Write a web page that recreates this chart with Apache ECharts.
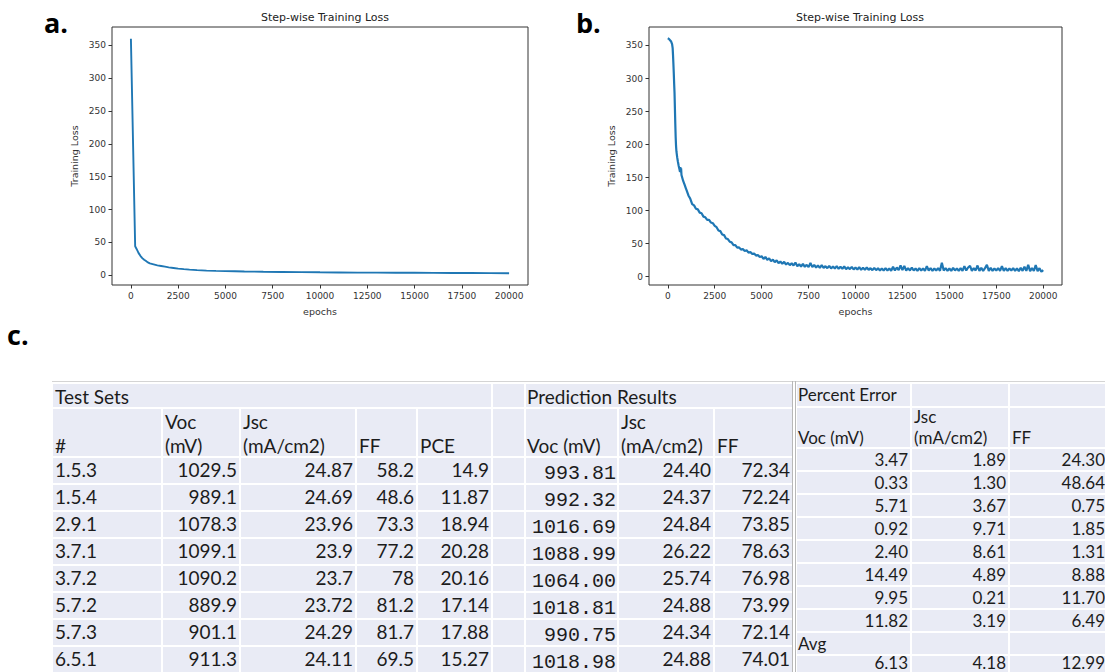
<!DOCTYPE html>
<html>
<head>
<meta charset="utf-8">
<title>Step-wise Training Loss and prediction results</title>
<script src="https://cdn.jsdelivr.net/npm/echarts@6/dist/echarts.min.js"></script>
<style>
  html, body { margin: 0; padding: 0; background: #ffffff; }
  #chart { width: 1105px; height: 672px; }
</style>
</head>
<body>
<div id="chart"></div>
<script>
// ---- Panel a: training loss ----
const epochsA = [0, 225, 300, 400, 500, 600, 700, 800, 900, 1000, 1200, 1400, 1600, 1800, 2000, 2250, 2500, 2800, 3100, 3500, 4000, 4500, 5000, 5500, 6000, 7000, 8000, 9000, 10000, 11000, 12000, 13000, 14000, 15000, 16000, 17000, 18000, 19000, 20000];
const lossA = [360, 44, 40, 34, 29.5, 26, 23.5, 21.5, 19.5, 18, 16.5, 15, 14, 13, 12, 11, 10, 9.2, 8.5, 7.8, 7, 6.6, 6.3, 6, 5.7, 5.3, 5, 4.7, 4.4, 4.2, 4, 3.9, 3.8, 3.7, 3.5, 3.4, 3.3, 3.2, 3];

// ---- Panel b: training loss (noisy run) ----
const epochsB = [0, 60, 120, 180, 230, 260, 280, 300, 320, 340, 360, 380, 400, 420, 440, 460, 500, 540, 580, 620, 650, 670, 690, 710, 730, 760, 790, 820, 860, 900, 950,
  1000, 1100, 1200, 1300, 1400, 1500, 1600, 1700, 1800, 1900, 2000, 2100, 2200, 2300, 2400, 2500, 2600, 2700, 2800, 2900, 3000, 3100, 3200, 3300, 3400, 3500, 3600, 3700, 3800, 3900, 4000, 4100, 4200, 4300, 4400, 4500, 4600, 4700, 4800, 4900,
  5000, 5100, 5200, 5300, 5400, 5500, 5600, 5700, 5800, 5900, 6000, 6100, 6200, 6300, 6400, 6500, 6600, 6700, 6800, 6900, 7000, 7100, 7200, 7300, 7400, 7500, 7600, 7700, 7800, 7900,
  8000, 8100, 8200, 8300, 8400, 8500, 8600, 8700, 8800, 8900, 9000, 9100, 9200, 9300, 9400, 9500, 9600, 9700, 9800, 9900,
  10000, 10100, 10200, 10300, 10400, 10500, 10600, 10700, 10800, 10900, 11000, 11100, 11200, 11300, 11400, 11500, 11600, 11700, 11800, 11900,
  12000, 12100, 12200, 12300, 12400, 12500, 12600, 12700, 12800, 12900, 13000, 13100, 13200, 13300, 13400, 13500, 13600, 13700, 13800, 13900,
  14000, 14100, 14200, 14300, 14400, 14500, 14600, 14700, 14800, 14900, 15000, 15100, 15200, 15300, 15400, 15500, 15600, 15700, 15800, 15900,
  16000, 16100, 16200, 16300, 16400, 16500, 16600, 16700, 16800, 16900, 17000, 17100, 17200, 17300, 17400, 17500, 17600, 17700, 17800, 17900,
  18000, 18100, 18200, 18300, 18400, 18500, 18600, 18700, 18800, 18900, 19000, 19100, 19200, 19300, 19400, 19500, 19600, 19700, 19800, 19900, 20000];
const lossB = [361, 360, 358, 356, 352, 346, 335, 322, 308, 292, 278, 255, 232, 212, 198, 190, 181, 174, 168, 163, 159, 166, 158, 164, 154, 151, 148, 145, 142, 139, 135,
  131, 123, 118, 110, 108, 103, 102, 97, 96, 91, 90, 86, 86, 82, 81, 77, 75, 70, 69, 64, 63, 58, 57, 53, 52, 48, 48, 44, 44.5, 41, 42, 39, 40, 36.5, 37.5, 34.5, 35, 32, 33, 30,
  31, 27, 30, 25.5, 28, 23.5, 26, 22, 25, 20.5, 23, 19.5, 22.5, 18.5, 21, 17.5, 20.5, 17, 21.5, 16, 19, 15.5, 19.5, 15, 18, 14.5, 21, 14.5, 18, 14,
  17, 13.5, 17.5, 13.5, 16, 13, 16.5, 12.5, 15.5, 12.5, 16, 12, 15, 12, 15.5, 11.5, 14.5, 11.5, 15, 11,
  14, 11, 14.5, 10.5, 13.5, 10.5, 14, 10.5, 13, 10, 13.5, 10, 13, 9.5, 12.5, 9.5, 13, 9.5, 12.5, 9,
  15, 9.5, 14, 10, 17, 10, 16.5, 9.5, 13, 9.5, 14, 9.5, 12.5, 9, 13, 9.5, 12.5, 9, 16, 9.5,
  13, 9, 12.5, 9.5, 13, 9, 21, 9.5, 13, 9, 12.5, 9, 13.5, 9.5, 12.5, 9, 13, 9, 16, 9.5,
  14, 16.5, 9, 13, 9.5, 17, 9, 13.5, 9, 13, 18, 9, 13.5, 9, 12.5, 9.5, 13, 9, 16, 9,
  13, 9, 12.5, 9.5, 13, 9, 12.5, 8.5, 13.5, 9, 15, 9, 18, 8.5, 13, 9, 17.5, 8.5, 13, 7.5, 10];

// ---- Axis ticks ----
const xTicks = [0, 2500, 5000, 7500, 10000, 12500, 15000, 17500, 20000];
const yTicks = [0, 50, 100, 150, 200, 250, 300, 350];

// ---- Panel c: test sets ----
const testIds = ['1.5.3', '1.5.4', '2.9.1', '3.7.1', '3.7.2', '5.7.2', '5.7.3', '6.5.1'];
const testVoc = [1029.5, 989.1, 1078.3, 1099.1, 1090.2, 889.9, 901.1, 911.3];
const testJsc = [24.87, 24.69, 23.96, 23.9, 23.7, 23.72, 24.29, 24.11];
const testFF = [58.2, 48.6, 73.3, 77.2, 78, 81.2, 81.7, 69.5];
const testPCE = [14.9, 11.87, 18.94, 20.28, 20.16, 17.14, 17.88, 15.27];

// ---- Panel c: prediction results ----
const predVoc = [993.81, 992.32, 1016.69, 1088.99, 1064.00, 1018.81, 990.75, 1018.98];
const predJsc = [24.40, 24.37, 24.84, 26.22, 25.74, 24.88, 24.34, 24.88];
const predFF = [72.34, 72.24, 73.85, 78.63, 76.98, 73.99, 72.14, 74.01];

// ---- Panel c: percent error ----
const errVoc = [3.47, 0.33, 5.71, 0.92, 2.40, 14.49, 9.95, 11.82];
const errJsc = [1.89, 1.30, 3.67, 9.71, 8.61, 4.89, 0.21, 3.19];
const errFF = [24.30, 48.64, 0.75, 1.85, 1.31, 8.88, 11.70, 6.49];
const errAvg = [6.13, 4.18, 12.99];

// ---------------------------------------------------------------
const AX_FONT = 'DejaVu Sans';
const CELL = '#e9ebf5';
const INK = '#1c1c1c';
const SHEET_FONT = 'Lato';
const MONO_FONT = 'Liberation Mono';
const FS = 19;      // sheet text size
const FS_ERR = 17;  // percent-error sheet text size

function pairs(xs, ys) { return xs.map((x, i) => [x, ys[i]]); }

function lossGrid(left, width) {
  return { left: left, top: 27, width: width, height: 258, show: true, borderColor: '#333', borderWidth: 1, containLabel: false };
}
function xAx(gridIndex) {
  return {
    type: 'value', gridIndex: gridIndex, min: -1000, max: 21000,
    name: 'epochs', nameLocation: 'middle', nameGap: 21,
    nameTextStyle: { fontFamily: AX_FONT, fontSize: 9.5, color: '#333' },
    axisLine: { show: false, onZero: false }, splitLine: { show: false },
    axisTick: { show: true, inside: false, length: 3.5, customValues: xTicks, lineStyle: { color: '#333' } },
    axisLabel: { customValues: xTicks, formatter: v => String(v), fontFamily: AX_FONT, fontSize: 9, color: '#333', margin: 6 }
  };
}
function yAx(gridIndex, min, max) {
  return {
    type: 'value', gridIndex: gridIndex, min: min, max: max,
    name: 'Training Loss', nameLocation: 'middle', nameGap: 33,
    nameTextStyle: { fontFamily: AX_FONT, fontSize: 9.5, color: '#333' },
    axisLine: { show: false, onZero: false }, splitLine: { show: false },
    axisTick: { show: true, inside: false, length: 3.5, customValues: yTicks, lineStyle: { color: '#333' } },
    axisLabel: { customValues: yTicks, formatter: v => String(v), fontFamily: AX_FONT, fontSize: 9, color: '#333', margin: 6 }
  };
}

// ---- spreadsheet drawing helpers ----
const elems = [];
function cell(x0, y0, x1, y1) {
  elems.push({ type: 'rect', silent: true, shape: { x: x0 + 1, y: y0 + 1, width: x1 - x0 - 2, height: y1 - y0 - 2 }, style: { fill: CELL } });
}
function txt(s, x, y, align, size, family) {
  elems.push({
    type: 'text', silent: true, x: x, y: y,
    style: { text: s, fill: INK, fontSize: size, fontFamily: family || SHEET_FONT,
      align: align, textAlign: align, verticalAlign: 'middle', textVerticalAlign: 'middle' }
  });
}
function fmt2(v) { return v.toFixed(2); }

// left sheet: test sets + prediction results share one row grid
const leftRows = [383, 408, 457, 484, 511, 538, 565, 592, 619, 646, 673];
const tsCols = [52, 162, 240, 356, 417, 492, 525];
const prCols = [525, 618, 714, 793];
// title row
cell(tsCols[0], leftRows[0], tsCols[5], leftRows[1]);
cell(tsCols[5], leftRows[0], tsCols[6], leftRows[1]);
cell(prCols[0], leftRows[0], prCols[3], leftRows[1]);
txt('Test Sets', tsCols[0] + 3, 396, 'left', FS);
txt('Prediction Results', prCols[0] + 2, 396, 'left', FS);
// header + body cells
const allLeftCols = tsCols.concat(prCols.slice(1));
for (let r = 1; r < leftRows.length - 1; r++) {
  for (let c = 0; c < allLeftCols.length - 1; c++) {
    cell(allLeftCols[c], leftRows[r], allLeftCols[c + 1], leftRows[r + 1]);
  }
}
const HL1 = 421, HL2 = 445;
txt('#', tsCols[0] + 3, HL2, 'left', FS);
txt('Voc', tsCols[1] + 3, HL1, 'left', FS); txt('(mV)', tsCols[1] + 3, HL2, 'left', FS);
txt('Jsc', tsCols[2] + 3, HL1, 'left', FS); txt('(mA/cm2)', tsCols[2] + 3, HL2, 'left', FS);
txt('FF', tsCols[3] + 3, HL2, 'left', FS);
txt('PCE', tsCols[4] + 3, HL2, 'left', FS);
txt('Voc (mV)', prCols[0] + 2, HL2, 'left', FS);
txt('Jsc', prCols[1] + 3, HL1, 'left', FS); txt('(mA/cm2)', prCols[1] + 3, HL2, 'left', FS);
txt('FF', prCols[2] + 3, HL2, 'left', FS);
testIds.forEach((id, i) => {
  const yc = leftRows[i + 2] + 12;
  txt(id, tsCols[0] + 3, yc, 'left', FS);
  txt(String(testVoc[i]), tsCols[2] - 3, yc, 'right', FS);
  txt(String(testJsc[i]), tsCols[3] - 3, yc, 'right', FS);
  txt(String(testFF[i]), tsCols[4] - 3, yc, 'right', FS);
  txt(String(testPCE[i]), tsCols[5] - 3, yc, 'right', FS);
  txt(fmt2(predVoc[i]), prCols[1] - 2, yc + 4, 'right', 20, MONO_FONT);
  txt(fmt2(predJsc[i]), prCols[2] - 3, yc, 'right', FS);
  txt(fmt2(predFF[i]), prCols[3] - 3, yc, 'right', FS);
});

// right sheet: percent error
const erCols = [796, 911, 1009, 1108];
const erRows = [383, 407, 448];
for (let k = 1; k <= 10; k++) erRows.push(448 + 23 * k);
for (let r = 0; r < erRows.length - 1; r++) {
  for (let c = 0; c < 3; c++) cell(erCols[c], erRows[r], erCols[c + 1], erRows[r + 1]);
}
txt('Percent Error', erCols[0] + 2, 394, 'left', FS_ERR);
txt('Jsc', erCols[1] + 3, 416, 'left', FS_ERR); txt('(mA/cm2)', erCols[1] + 3, 437, 'left', FS_ERR);
txt('Voc (mV)', erCols[0] + 2, 437, 'left', FS_ERR);
txt('FF', erCols[2] + 3, 437, 'left', FS_ERR);
const erVals = [errVoc, errJsc, errFF];
errVoc.forEach((_, i) => {
  const yc = (erRows[i + 2] + erRows[i + 3]) / 2;
  erVals.forEach((col, c) => txt(fmt2(col[i]), erCols[c + 1] - 3, yc, 'right', FS_ERR));
});
txt('Avg', erCols[0] + 2, (erRows[10] + erRows[11]) / 2, 'left', FS_ERR);
// averages sit on the last visible row, kept clear of the lower edge
errAvg.forEach((v, c) => txt(fmt2(v), erCols[c + 1] - 3, 662, 'right', FS_ERR));

// sheet rules
elems.push({ type: 'line', silent: true, shape: { x1: 52, y1: 381.5, x2: 1105, y2: 381.5 }, style: { stroke: '#d4d4d4', lineWidth: 1 } });
elems.push({ type: 'line', silent: true, shape: { x1: 792.5, y1: 381, x2: 792.5, y2: 672 }, style: { stroke: '#b8b8b8', lineWidth: 1 } });
elems.push({ type: 'line', silent: true, shape: { x1: 795.5, y1: 381, x2: 795.5, y2: 672 }, style: { stroke: '#b8b8b8', lineWidth: 1 } });

// panel letters
function panelLetter(s, x, y) {
  elems.push({ type: 'text', silent: true, x: x, y: y,
    style: { text: s, fill: '#000', fontSize: 27, fontWeight: 'bold', fontFamily: 'Open Sans',
      align: 'left', textAlign: 'left', verticalAlign: 'middle', textVerticalAlign: 'middle' } });
}
panelLetter('a.', 44, 22);
panelLetter('b.', 576, 22);
panelLetter('c.', 7, 334);

const chart = echarts.init(document.getElementById('chart'), null, { renderer: 'svg' });
chart.setOption({
  backgroundColor: '#ffffff',
  animation: false,
  title: [
    { text: 'Step-wise Training Loss', left: 320, top: 7, textAlign: 'center', textStyle: { fontFamily: AX_FONT, fontSize: 11, fontWeight: 'normal', color: '#222' } },
    { text: 'Step-wise Training Loss', left: 855, top: 7, textAlign: 'center', textStyle: { fontFamily: AX_FONT, fontSize: 11, fontWeight: 'normal', color: '#222' } }
  ],
  grid: [lossGrid(112, 416), lossGrid(649, 413)],
  xAxis: [xAx(0), xAx(1)],
  yAxis: [yAx(0, -14.9, 377.9), yAx(1, -12.5, 378)],
  series: [
    { type: 'line', xAxisIndex: 0, yAxisIndex: 0, data: pairs(epochsA, lossA), showSymbol: false, lineStyle: { color: '#1f77b4', width: 1.9 } },
    { type: 'line', xAxisIndex: 1, yAxisIndex: 1, data: pairs(epochsB, lossB), showSymbol: false, lineStyle: { color: '#1f77b4', width: 2.2 } }
  ],
  graphic: { elements: elems }
});
</script>
</body>
</html>
